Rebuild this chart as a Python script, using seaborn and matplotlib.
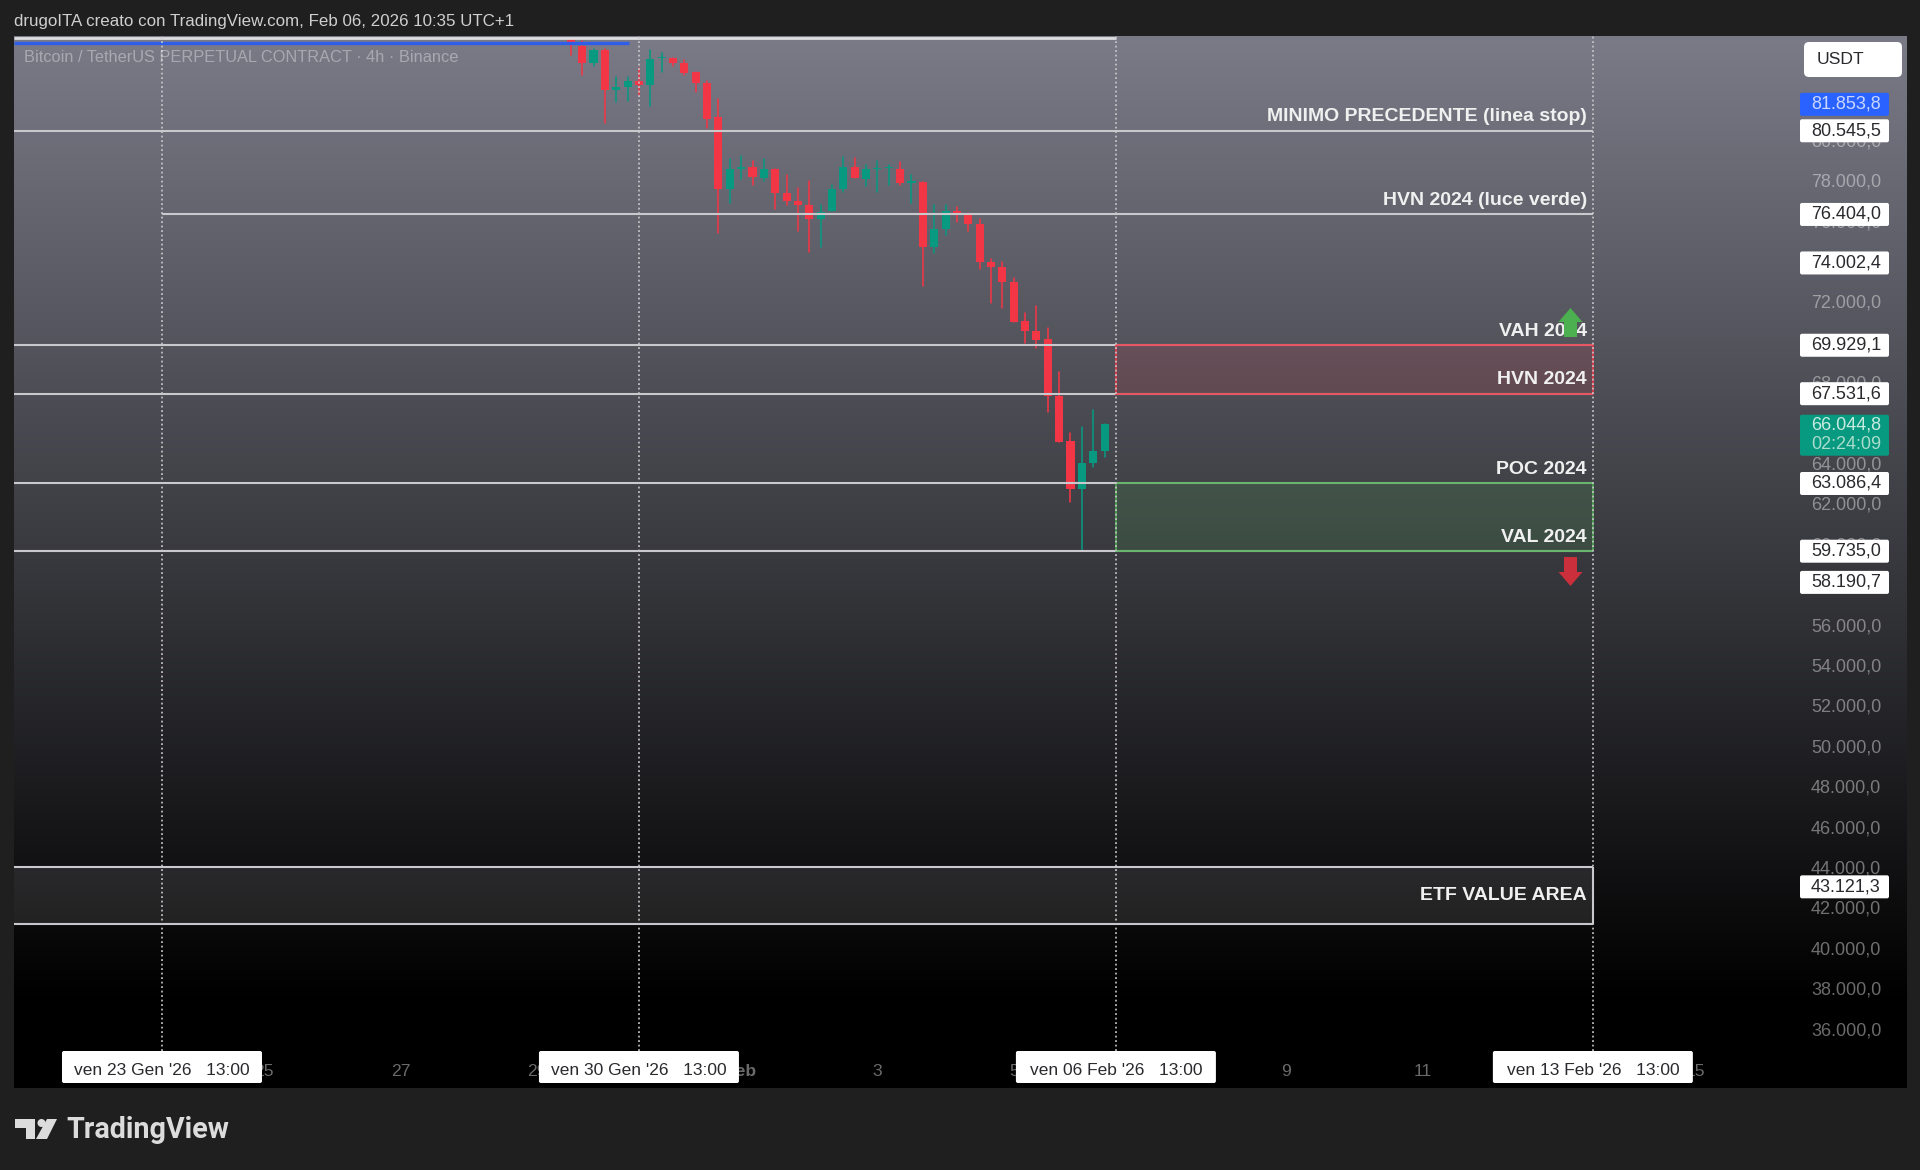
import numpy as np
import pandas as pd
import matplotlib
matplotlib.use("Agg")
import matplotlib.pyplot as plt
import matplotlib.dates as mdates
from matplotlib.patches import Polygon, FancyBboxPatch, Circle
from matplotlib.transforms import ScaledTranslation
import seaborn as sns

# --- 4h BTC/USDT candles, oldest first ---
bar_open = [85150, 84732, 83925, 84534, 82554, 82702, 83034, 82787, 84138, 84153, 83925, 83460,
            82915, 81218, 77668, 78658, 78757, 78213, 78658, 77470, 77094, 76862, 76183, 76550,
            77639, 78743, 78183, 78644, 78708, 78658, 77985, 78015, 74817, 75659, 76599, 76431,
            75936, 74040, 73807, 73065, 71120, 70659, 70214, 67407, 65180, 62803, 64076, 64719]
bar_high = [85150, 85014, 84569, 84598, 83212, 83197, 83658, 84534, 84400, 84153, 84039, 83460,
            83034, 82123, 79124, 79287, 79040, 79124, 78658, 78381, 77718, 78050, 76862, 77886,
            79252, 79203, 78842, 79074, 78876, 78990, 78347, 78015, 76847, 76896, 76762, 76480,
            76183, 74174, 74055, 73263, 71515, 71862, 70788, 68610, 65590, 65887, 66714, 66044.8]
bar_low = [84320, 83331, 83742, 80935, 81975, 82044, 82306, 81762, 83445, 83742, 83331, 82455,
           80688, 75461, 76975, 78183, 77837, 78050, 76698, 76896, 75609, 74535, 74797, 76550,
           77520, 78198, 77802, 77520, 77837, 77837, 76946, 72852, 74485, 75376, 76020, 75574,
           73708, 72025, 71778, 71085, 70045, 69798, 66615, 65145, 62175, 59769, 63892, 64387]
bar_close = [84895, 83905, 84534, 82554, 82717, 83034, 82787, 84123, 84222, 83905, 83430, 82900,
             81153, 77639, 78658, 78777, 78248, 78658, 77470, 77094, 76847, 76183, 76530, 77668,
             78743, 78198, 78629, 78708, 78777, 77936, 78084, 74817, 75659, 76599, 76416, 75921,
             74040, 73807, 73050, 71085, 70659, 70179, 67407, 65145, 62803, 64076, 64719, 66044.8]
last_bar = "2026-02-06 09:00"

# --- Horizontal levels drawn on the chart ---
level_stop = 80545.5
level_hvn_green = 76404.0
level_vah = 69929.1
level_hvn = 67531.6
level_poc = 63086.4
level_val = 59735.0
etf_high = 44092
etf_low = 41271
top_white = 85139
top_blue = 84891

# --- Price scale ---
y_ticks = [36000 + 2000 * i for i in range(23)]
white_tags = [80545.5, 76404.0, 74002.4, 69929.1, 67531.6, 63086.4, 59735.0, 58190.7, 43121.3]
blue_tag = 81853.8
last_price = 66044.8
countdown = "02:24:09"

# --- Time scale ---
x_tick_dates = ["2026-01-25", "2026-01-27", "2026-01-29", "2026-02-01", "2026-02-03", "2026-02-05",
                "2026-02-07", "2026-02-09", "2026-02-11", "2026-02-13", "2026-02-15"]
x_tick_labels = ["25", "27", "29", "Feb", "3", "5", "7", "9", "11", "13", "15"]
marker_times = ["2026-01-23 13:00", "2026-01-30 13:00", "2026-02-06 13:00", "2026-02-13 13:00"]
marker_labels = ["ven 23 Gen '26   13:00", "ven 30 Gen '26   13:00",
                 "ven 06 Feb '26   13:00", "ven 13 Feb '26   13:00"]

W, H = 1920, 1170
FRAME = "#1f1f1f"
RED = "#f23645"
GREEN = "#089981"

sns.set_theme(style="dark", rc={"figure.facecolor": FRAME, "savefig.facecolor": FRAME})
plt.rcParams["font.family"] = ["Liberation Sans", "DejaVu Sans"]


def fig_rect(left, top, right, bottom):
    return [left / W, 1 - bottom / H, (right - left) / W, (bottom - top) / H]


def money(v):
    return f"{v:,.1f}".replace(",", "#").replace(".", ",").replace("#", ".")


fig = plt.figure(figsize=(W / 100, H / 100), dpi=100)

# Panel background: vertical fade from slate to black
bg = fig.add_axes(fig_rect(14, 36, 1906, 1088), zorder=0)
shade = np.clip(1 - (np.arange(36, 1088) - 36) / 965, 0, 1)[:, None, None] * np.array([122, 123, 135]) / 255
bg.imshow(shade, aspect="auto", interpolation="bilinear")
bg.axis("off")

# Main price axes
ax = fig.add_axes(fig_rect(14, 36, 1800, 1051), zorder=1)
ax.set_facecolor("none")
times = pd.date_range(end=last_bar, periods=len(bar_open), freq="4h")
candles = pd.DataFrame({"time": times, "open": bar_open, "high": bar_high,
                        "low": bar_low, "close": bar_close})
candles["side"] = np.where(candles["close"] >= candles["open"], "up", "down")
palette = {"up": GREEN, "down": RED}

wicks = candles.melt(id_vars=["time", "side"], value_vars=["low", "high"], value_name="price")
sns.lineplot(data=wicks, x="time", y="price", units="time", estimator=None, hue="side",
             palette=palette, legend=False, linewidth=1.15, ax=ax, zorder=3)

body_w = pd.Timedelta(hours=2.85)
for side, group in candles.groupby("side"):
    lo = group[["open", "close"]].min(axis=1)
    hi = group[["open", "close"]].max(axis=1)
    ax.bar(group["time"], hi - lo, bottom=lo, width=body_w, color=palette[side], linewidth=0, zorder=4)

t0 = pd.Timestamp(marker_times[0])
t_end = pd.Timestamp(marker_times[3])
t_now = pd.Timestamp(marker_times[2])
ax.set_xlim(t0 - pd.Timedelta(days=2.172), t0 + pd.Timedelta(days=24.04))
ax.set_ylim(34995, 85237)
x_left = ax.get_xlim()[0]

# Zones between the levels
ax.fill_between([t_now, t_end], level_hvn, level_vah, color=RED, alpha=0.13, linewidth=0, zorder=2)
ax.fill_between([t_now, t_end], level_val, level_poc, color="#4caf50", alpha=0.16, linewidth=0, zorder=2)
ax.fill_between([x_left, mdates.date2num(t_end)], etf_low, etf_high, color="white", alpha=0.1,
                linewidth=0, zorder=2)

LINE = "#c9c9cd"
for lvl in [level_stop, level_vah, level_hvn, level_poc, level_val, etf_high, etf_low]:
    ax.hlines(lvl, x_left, t_end, color=LINE, linewidth=1.5, zorder=5)
ax.hlines(level_hvn_green, t0, t_end, color=LINE, linewidth=1.5, zorder=5)
ax.hlines(top_white, x_left, t_now, color="#dedee0", linewidth=2, zorder=5)
ax.hlines(top_blue, x_left, pd.Timestamp("2026-01-30 09:30"), color="#2f5fe8", linewidth=2.4, zorder=5)
ax.vlines(t_end, etf_low, etf_high, color=LINE, linewidth=1.5, zorder=5)

for lo, hi, edge in [(level_hvn, level_vah, RED), (level_val, level_poc, "#4caf50")]:
    ax.plot([t_now, t_end, t_end, t_now, t_now], [lo, lo, hi, hi, lo], color=edge, linewidth=1.1, zorder=6)

for stamp in marker_times:
    ax.axvline(pd.Timestamp(stamp), color="#c8c8cc", linewidth=1.2, linestyle=(0, (1.1, 1.6)), zorder=7)

# Level captions
captions = [("MINIMO PRECEDENTE (linea stop)", level_stop, 14),
            ("HVN 2024 (luce verde)", level_hvn_green, 14),
            ("VAH 2024", level_vah, 14),
            ("HVN 2024", level_hvn, 14),
            ("POC 2024", level_poc, 14),
            ("VAL 2024", level_val, 14),
            ("ETF VALUE AREA", 43121.3, -9)]
for text, price, lift in captions:
    ax.annotate(text, xy=(t_end, price), xytext=(-6, lift), textcoords="offset pixels",
                ha="right", va="center", fontsize=14, fontweight="bold", color="#f0f0f0", zorder=8)

# Price and time scales
ax.yaxis.tick_right()
ax.set_yticks(y_ticks)
ax.set_yticklabels([money(v) for v in y_ticks])
ax.set_xticks(pd.to_datetime(x_tick_dates))
ax.set_xticklabels(x_tick_labels)
ax.tick_params(axis="y", length=0, pad=8, labelsize=13, labelcolor=(1, 1, 1, 0.42))
ax.tick_params(axis="x", length=0, pad=9.5, labelsize=12.6, labelcolor=(1, 1, 1, 0.42))
ax.xaxis.get_ticklabels()[3].set_fontweight("bold")
nudge_y = ScaledTranslation(0, 2 / 100, fig.dpi_scale_trans)
nudge_x = ScaledTranslation(3 / 100, 0, fig.dpi_scale_trans)
for label in ax.get_yticklabels():
    label.set_transform(label.get_transform() + nudge_y)
for label in ax.get_xticklabels():
    label.set_transform(label.get_transform() + nudge_x)
ax.set_xlabel("")
ax.set_ylabel("")
ax.grid(False)
for spine in ax.spines.values():
    spine.set_visible(False)

fig.canvas.draw()


def price_px(p):
    return H - ax.transData.transform((0, p))[1]


def time_px(t):
    return ax.transData.transform((mdates.date2num(pd.Timestamp(t)), 0))[0]


# Pixel-space layer for the tags, arrows, header and logo
ui = fig.add_axes([0, 0, 1, 1], zorder=2)
ui.set_xlim(0, W)
ui.set_ylim(H, 0)
ui.axis("off")
ui.patch.set_alpha(0)


def box(left, top, width, height, face="white", radius=2):
    ui.add_patch(FancyBboxPatch((left + radius, top + radius), width - 2 * radius, height - 2 * radius,
                                boxstyle=f"round,pad={radius},rounding_size={radius}",
                                facecolor=face, edgecolor="none"))


def tag(cy, text, face="white", color="#2a2a2e"):
    box(1800, cy - 11.5, 89, 23, face=face)
    ui.text(1811, cy, text, ha="left", va="center", fontsize=13, color=color)


for value in white_tags:
    tag(price_px(value), money(value))
tag(price_px(blue_tag), money(blue_tag), face="#2962ff", color="#c9d6ff")

cy = price_px(last_price)
box(1800, cy - 9, 89, 41, face=GREEN)
ui.text(1811, cy + 1.5, money(last_price), ha="left", va="center", fontsize=13, color="#c8ebe0")
ui.text(1811, cy + 20.5, countdown, ha="left", va="center", fontsize=13, color="#a8dccb")

box(1804, 42, 98, 35, radius=5)
ui.text(1817, 59, "USDT", ha="left", va="center", fontsize=12.6, color="#2a2a2e")

for stamp, text in zip(marker_times, marker_labels):
    cx = time_px(stamp)
    box(cx - 100, 1051, 200, 32)
    ui.text(cx, 1070.5, text, ha="center", va="center", fontsize=12.5, color="#2a2a2e")

# Direction arrows beside the value area
arrow_x = 1570.5
ui.add_patch(Polygon([(arrow_x, 308), (arrow_x + 12, 322), (arrow_x + 6.5, 322), (arrow_x + 6.5, 337),
                      (arrow_x - 6.5, 337), (arrow_x - 6.5, 322), (arrow_x - 12, 322)],
                     facecolor="#4caf50", edgecolor="none", zorder=5))
ui.add_patch(Polygon([(arrow_x, 586), (arrow_x + 12, 572), (arrow_x + 6.5, 572), (arrow_x + 6.5, 557),
                      (arrow_x - 6.5, 557), (arrow_x - 6.5, 572), (arrow_x - 12, 572)],
                     facecolor="#cc2f3c", edgecolor="none", zorder=5))

# Header and symbol line
ui.text(13.5, 21.5, "drugoITA creato con TradingView.com, Feb 06, 2026 10:35 UTC+1",
        ha="left", va="center", fontsize=12.2, color="#cfcfcf")
ui.text(24.5, 57.5, "Bitcoin / TetherUS PERPETUAL CONTRACT · 4h · Binance",
        ha="left", va="center", fontsize=11.75, color=(1, 1, 1, 0.36))

# Wordmark
LOGO = "#dcdcdc"
ui.add_patch(Polygon([(15, 1119), (35, 1119), (35, 1139), (26, 1139), (26, 1128), (15, 1128)],
                     facecolor=LOGO, edgecolor="none"))
ui.add_patch(Circle((41.5, 1123), 4, facecolor=LOGO, edgecolor="none"))
ui.add_patch(Polygon([(47, 1119), (57, 1119), (47, 1139), (36, 1139)], facecolor=LOGO, edgecolor="none"))
ui.text(66, 1130, "TradingView", ha="left", va="center", fontsize=20.7, fontweight="bold",
        family="Roboto", color=LOGO)

fig.savefig("out.png", dpi=100)
